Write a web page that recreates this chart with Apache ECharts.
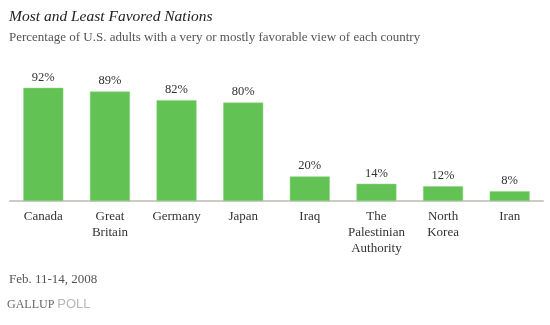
<!DOCTYPE html>
<html>
<head>
<meta charset="utf-8">
<script src="https://cdn.jsdelivr.net/npm/echarts@6/dist/echarts.min.js"></script>
<style>html,body{margin:0;padding:0;background:#fff;}#c{width:550px;height:325px;}</style>
</head>
<body>
<div id="c"></div>
<script>
var categories = ['Canada', 'Great\nBritain', 'Germany', 'Japan', 'Iraq', 'The\nPalestinian\nAuthority', 'North\nKorea', 'Iran'];
var values = [92, 89, 82, 80, 20, 14, 12, 8];

var serif = '"Liberation Serif", "DejaVu Serif", serif';
var chart = echarts.init(document.getElementById('c'), null, {renderer: 'canvas'});
chart.setOption({
  animation: false,
  backgroundColor: '#fff',
  title: [
    {text: 'Most and Least Favored Nations', left: 4, top: 4,
     textStyle: {fontFamily: serif, fontStyle: 'italic', fontWeight: 'normal', fontSize: 15.5, color: '#222'}},
    {text: 'Percentage of U.S. adults with a very or mostly favorable view of each country', left: 4, top: 26,
     textStyle: {fontFamily: serif, fontWeight: 'normal', fontSize: 13, color: '#555'}},
    {text: 'Feb. 11-14, 2008', left: 4, top: 268,
     textStyle: {fontFamily: serif, fontWeight: 'normal', fontSize: 13, color: '#555'}},
    {text: '{a|GALLUP}{b|POLL}', left: 2, top: 293,
     textStyle: {fontWeight: 'normal', rich: {
       a: {fontFamily: serif, fontSize: 12, fontWeight: 'normal', color: '#666', padding: [0, 3, 0, 0]},
       b: {fontFamily: '"Liberation Sans", sans-serif', fontSize: 13, fontWeight: 'normal', color: '#b8b8b8'}
     }}}
  ],
  grid: {left: 10, right: 7, top: 78, bottom: 124, containLabel: false},
  xAxis: {
    type: 'category',
    data: categories,
    axisLine: {lineStyle: {color: '#ccccc4', width: 2}},
    axisTick: {show: false},
    axisLabel: {fontFamily: serif, fontSize: 13, color: '#333', lineHeight: 16, margin: 8, interval: 0}
  },
  yAxis: {
    type: 'value', min: 0, max: 100, show: false,
    splitLine: {show: false}
  },
  series: [{
    type: 'bar',
    data: values,
    barWidth: 40,
    itemStyle: {color: '#62c254', borderColor: '#8fd483', borderWidth: 0.5},
    label: {show: true, position: 'top', distance: 4, formatter: '{c}%',
      fontFamily: serif, fontSize: 12.5, color: '#333'}
  }]
});
</script>
</body>
</html>
